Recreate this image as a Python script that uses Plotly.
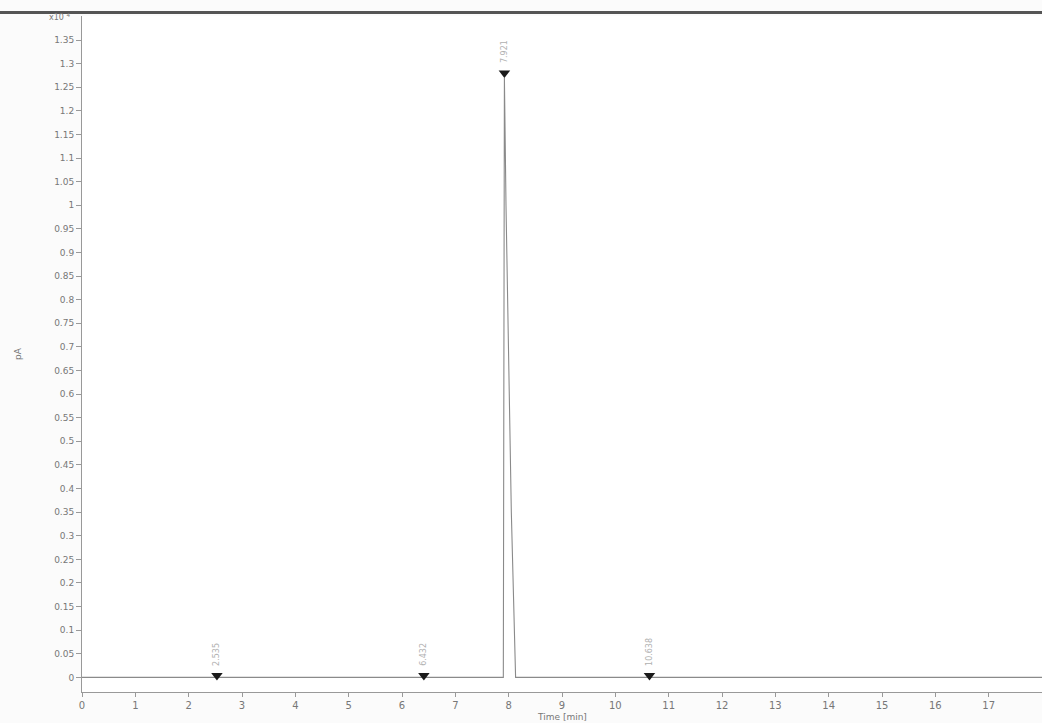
import plotly.graph_objects as go

# Chromatogram trace (signal in pA x10^4)
time_min = [0.0, 2.50, 2.53, 2.56, 6.38, 6.41, 6.44, 7.90, 7.92, 7.95, 8.05, 8.13, 10.61, 10.64, 10.67, 18.0]
signal = [0.0, 0.0, 0.002, 0.0, 0.0, 0.002, 0.0, 0.0, 1.27, 1.0, 0.35, 0.0, 0.0, 0.002, 0.0, 0.0]

# Peak markers
peak_times = [2.53, 6.41, 7.92, 10.64]
peak_marker_y = [0.004, 0.004, 1.28, 0.004]
peak_labels = ["2.535", "6.432", "7.921", "10.638"]

y_tick_vals = [round(i * 0.05, 2) for i in range(28)]
y_tick_text = [("%g" % v) for v in y_tick_vals]
x_tick_vals = list(range(0, 19))

fig = go.Figure()
fig.add_trace(go.Scatter(
    x=time_min, y=signal, mode="lines",
    line=dict(color="#8a8a8a", width=1.1),
    showlegend=False, hoverinfo="skip"))
fig.add_trace(go.Scatter(
    x=peak_times, y=peak_marker_y, mode="markers",
    marker=dict(symbol="triangle-down", size=10, color="#1a1a1a"),
    showlegend=False, hoverinfo="skip"))

for t, yv, lab in zip(peak_times, peak_marker_y, peak_labels):
    fig.add_annotation(x=t, y=yv, text=lab, textangle=-90, showarrow=False,
                       yanchor="bottom", yshift=8,
                       font=dict(family="DejaVu Sans", size=8, color="#b0b0b0"))

fig.add_annotation(xref="paper", yref="paper", x=0, y=1, text="x10 <sup>4</sup>",
                   showarrow=False, xanchor="right", yanchor="top", xshift=-10, yshift=6,
                   font=dict(family="DejaVu Sans", size=8, color="#777777"))
fig.add_annotation(xref="paper", yref="paper", x=0, y=0.5, text="pA", textangle=-90,
                   showarrow=False, xanchor="center", yanchor="middle", xshift=-64,
                   font=dict(family="DejaVu Sans", size=9, color="#777777"))
fig.add_annotation(xref="paper", yref="paper", x=0.5, y=0, text="Time [min]",
                   showarrow=False, xanchor="center", yanchor="top", yshift=-18,
                   font=dict(family="DejaVu Sans", size=9, color="#777777"))

fig.add_shape(type="line", xref="paper", yref="paper", x0=-0.09, x1=1.0, y0=1.005, y1=1.005,
              line=dict(color="#555555", width=3))

fig.update_layout(
    width=1042, height=723,
    margin=dict(l=82, r=0, t=16, b=31, autoexpand=False),
    paper_bgcolor="#fbfbfb", plot_bgcolor="white",
    font=dict(family="DejaVu Sans", size=9, color="#777777"),
    xaxis=dict(range=[0, 18], tickvals=x_tick_vals, ticks="outside", ticklen=4,
               tickcolor="#999999", showline=True, linecolor="#999999", linewidth=1,
               showgrid=False, zeroline=False, tickfont=dict(size=10, color="#777777"),
               automargin=False),
    yaxis=dict(range=[-0.031, 1.401], tickvals=y_tick_vals, ticktext=y_tick_text,
               ticks="outside", ticklen=5, tickcolor="#999999", showline=True,
               linecolor="#999999", linewidth=1, showgrid=False, zeroline=False,
               tickfont=dict(size=9, color="#777777"), automargin=False),
)

fig.write_html("out.html", config={"displayModeBar": False},
               post_script="document.body.style.margin='0';document.body.style.overflow='hidden';")
